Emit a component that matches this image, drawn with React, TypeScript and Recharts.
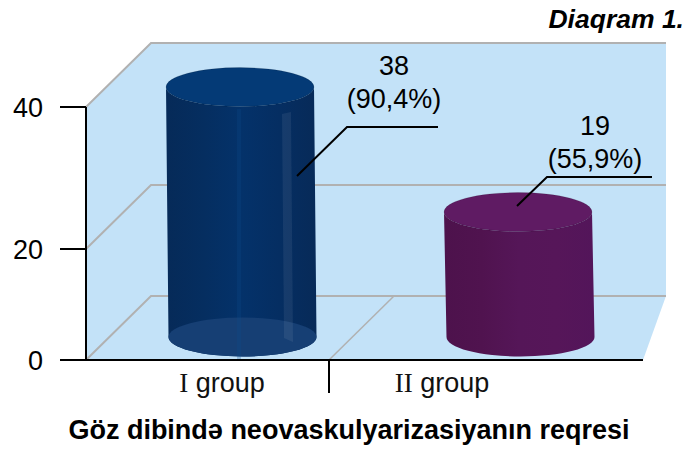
import React from "react";
import { ComposedChart, Bar, Line, XAxis, YAxis, ReferenceArea, LabelList } from "recharts";

const categories = ["I group", "II group"];
const counts = [38, 19];
const percents = ["(90,4%)", "(55,9%)"];
const yTickLabels = ["0", "20", "40"];
// The printed axis of the reference is unevenly spaced: where each printed label sits on a linear guide axis.
const yTickSpots = [0, 17.55, 40];
const rows = categories.map((group, i) => ({ group, count: counts[i], percent: percents[i] }));

const FONT = "'Liberation Sans', Arial, sans-serif";
const DEPTH_X = 65;
const DEPTH_Y = 64;
const GRID = "#b1b1b1";
const WALL = "#c3e2f8";
const FRONT_RIGHT_INSET = 23;

const palettes = [
  { id: "cylA", top: "#043a76", stops: ["#062a58", "#052e60", "#04326a", "#052e62", "#072a58"] },
  { id: "cylB", top: "#5f1b63", stops: ["#4d124c", "#50134f", "#551658", "#561659", "#53155a"] },
];

const Wall = (p: any) => {
  const { x, y, width, height } = p;
  const bottom = y + height;
  const frontRight = x + width - FRONT_RIGHT_INSET;
  const backLeft = x + DEPTH_X;
  const backTop = y - DEPTH_Y;
  const backBottom = bottom - DEPTH_Y;
  return (
    <g>
      <polygon
        points={`${x},${y} ${backLeft},${backTop} ${x + width},${backTop} ${x + width},${backBottom} ${frontRight},${bottom} ${x},${bottom}`}
        fill={WALL}
      />
      <line x1={x + 243} y1={bottom} x2={x + 243 + DEPTH_X} y2={backBottom} stroke={GRID} strokeWidth={1.5} />
    </g>
  );
};

const GridFold = (p: any) => {
  const { x, y, width, height } = p;
  const level = y + height;
  return (
    <polyline
      points={`${x},${level} ${x + DEPTH_X},${level - DEPTH_Y} ${x + width},${level - DEPTH_Y}`}
      fill="none"
      stroke={GRID}
      strokeWidth={2}
    />
  );
};

const Cylinder = (p: any) => {
  const { x, y, width, height, index } = p;
  const c = palettes[index];
  const rx = width / 2;
  const ry = 19.5;
  const skew = 2.5;
  const bottom = y + height;
  const body = `M${x},${y} L${x + skew},${bottom} A${rx},${ry} 0 0 0 ${x + width + skew},${bottom} L${x + width},${y} A${rx},${ry} 0 0 1 ${x},${y} Z`;
  return (
    <g>
      <defs>
        <linearGradient id={c.id} x1="0" x2="1" y1="0" y2="0">
          {c.stops.map((s, i) => (
            <stop key={i} offset={i / (c.stops.length - 1)} stopColor={s} />
          ))}
        </linearGradient>
      </defs>
      <path d={body} fill={`url(#${c.id})`} />
      {index === 0 && (
        <>
          <path
            d={`M${x + skew},${bottom} A${rx},${ry} 0 0 0 ${x + width + skew},${bottom} A${rx},${ry} 0 0 0 ${x + skew},${bottom} Z`}
            fill="#163f74"
          />
          <polygon
            points={`${x + 116},${y + 27} ${x + 125},${y + 25} ${x + 127},${bottom + 5} ${x + 118},${bottom + 1}`}
            fill="#ffffff"
            fillOpacity={0.07}
          />
          <rect x={x + 71} y={y + 22} width={4} height={height} fill="#0a4a8c" fillOpacity={0.25} />
        </>
      )}
      <ellipse cx={x + rx} cy={y} rx={rx} ry={ry} fill={c.top} stroke="#000000" strokeOpacity={0.12} />
    </g>
  );
};

// Leader line offsets relative to each cylinder's top centre.
const leaders = [
  { start: [57, 89], knee: [107, 40], end: [198, 40], textDx: 154, baseline: -12 },
  { start: [-1, -6], knee: [29, -35], end: [134, -35], textDx: 77, baseline: -77 },
];

const CalloutLabel = (p: any) => {
  const { x, y, width, index, value } = p;
  const cx = x + width / 2;
  const l = leaders[index];
  return (
    <g>
      <polyline
        points={`${cx + l.start[0]},${y + l.start[1]} ${cx + l.knee[0]},${y + l.knee[1]} ${cx + l.end[0]},${y + l.end[1]}`}
        fill="none"
        stroke="#000"
        strokeWidth={2}
      />
      <text x={cx + l.textDx} y={y + l.baseline} textAnchor="middle" fontFamily={FONT} fontSize={27} fill="#000">
        {value}
      </text>
      <text x={cx + l.textDx} y={y + l.baseline + 33} textAnchor="middle" fontFamily={FONT} fontSize={27} fill="#000">
        {percents[index]}
      </text>
    </g>
  );
};

const GroupTick = (p: any) => {
  const { x, y, payload, index } = p;
  const [num, word] = String(payload.value).split(" ");
  return (
    <g>
      {index === 0 && <line x1={x + 107} x2={x + 107} y1={y - 8} y2={y + 25} stroke="#000" strokeWidth={2} />}
      <text x={x} y={y + 24} textAnchor="middle" fontSize={27} fill="#111">
        <tspan fontFamily="'Liberation Serif', serif">{num}</tspan>
        <tspan fontFamily={FONT}> {word}</tspan>
      </text>
    </g>
  );
};

const FrontEdges = (p: any) => {
  const { x, y, width, height } = p;
  const bottom = y + height;
  return (
    <polyline
      points={`${x},${y} ${x},${bottom} ${x + width - FRONT_RIGHT_INSET},${bottom}`}
      fill="none"
      stroke="#000"
      strokeWidth={2}
    />
  );
};

const printedLabel = (spot: number) => yTickLabels[yTickSpots.indexOf(spot)] ?? "";

export default function App() {
  return (
    <div style={{ position: "absolute", left: 0, top: 0, width: 686, height: 451 }}>
      <ComposedChart width={686} height={451} data={rows} margin={{ top: 43, right: 20, bottom: 0, left: 0 }}>
        <XAxis xAxisId="labels" dataKey="group" height={91} padding={{ left: 26, right: 114 }} axisLine={false} tickLine={false} tick={<GroupTick />} interval={0} />
        <XAxis xAxisId="bars" dataKey="group" hide height={0} padding={{ left: 15, right: 9 }} />
        <XAxis xAxisId="frame" dataKey="group" hide height={0} />
        <YAxis
          yAxisId="left"
          type="number"
          width={86}
          domain={[0, 50.12]}
          ticks={yTickSpots}
          interval={0}
          axisLine={false}
          tickSize={26}
          tickMargin={17}
          tickFormatter={printedLabel}
          tickLine={{ stroke: "#000", strokeWidth: 2 }}
          tick={{ fontFamily: FONT, fontSize: 27, fill: "#000" }}
        />
        <YAxis yAxisId="bars" type="number" hide width={0} domain={[-3.5, 44.7]} />
        <Line xAxisId="frame" yAxisId="left" dataKey="count" stroke="none" dot={false} activeDot={false} legendType="none" isAnimationActive={false} />
        <ReferenceArea xAxisId="frame" yAxisId="left" y1={0} y2={40} shape={<Wall />} ifOverflow="visible" />
        {yTickSpots.map((t) => (
          <ReferenceArea key={t} xAxisId="frame" yAxisId="left" y1={t} y2={t + 1} shape={<GridFold />} ifOverflow="visible" />
        ))}
        <ReferenceArea xAxisId="frame" yAxisId="left" y1={0} y2={40} shape={<FrontEdges />} ifOverflow="visible" />
        <Bar xAxisId="bars" yAxisId="bars" dataKey="count" barSize={148} isAnimationActive={false} shape={<Cylinder />}>
          <LabelList dataKey="count" content={<CalloutLabel />} />
        </Bar>
      </ComposedChart>
      <div style={{ position: "absolute", right: 2, top: 5, fontFamily: FONT, fontWeight: 700, fontStyle: "italic", fontSize: 26.5, lineHeight: "28px", color: "#000" }}>
        Diaqram 1.
      </div>
      <div style={{ position: "absolute", left: 0, width: 698, top: 416, textAlign: "center", fontFamily: FONT, fontWeight: 700, fontSize: 27, lineHeight: "28px", color: "#000" }}>
        Göz dibində neovaskulyarizasiyanın reqresi
      </div>
    </div>
  );
}
